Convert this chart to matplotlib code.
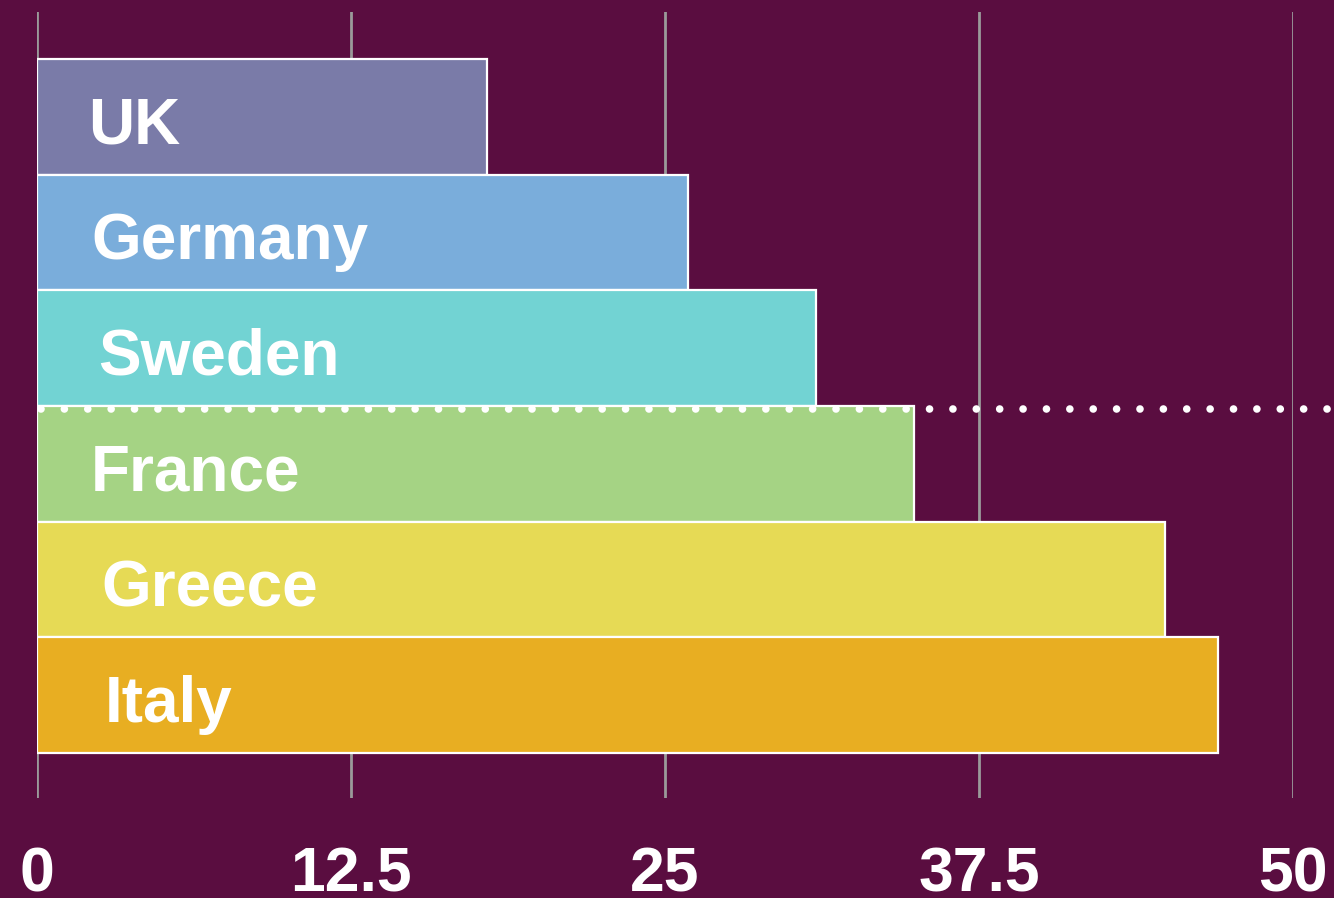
import matplotlib
matplotlib.use("Agg")
import matplotlib.pyplot as plt

countries = ["UK", "Germany", "Sweden", "France", "Greece", "Italy"]
values = [17.9, 25.9, 31.0, 34.9, 44.9, 47.0]
colors = ["#7A7BA8", "#7AADDB", "#72D3D3", "#A5D384", "#E6DA55", "#E8AE22"]
ticks = [0, 12.5, 25, 37.5, 50]
tick_labels = ["0", "12.5", "25", "37.5", "50"]

BG = "#5A0D40"
W, H = 1334, 898
fig = plt.figure(figsize=(W / 100, H / 100), dpi=100, facecolor=BG)
ax = fig.add_axes([37 / W, 1 - 798 / H, 1256 / W, 786 / H], facecolor=BG)

pos = list(range(len(countries)))
ax.barh(pos, values, height=1.0, color=colors, edgecolor="white", linewidth=1.6, zorder=3)

label_x = [2.05, 2.15, 2.45, 2.15, 2.55, 2.7]
for p, name, lx in zip(pos, countries, label_x):
    ax.text(lx, p + 0.23, name, color="white", fontsize=46, fontweight="bold",
            family="Liberation Sans", va="baseline", ha="left", zorder=5)

# dotted reference line between Sweden and France
ax.plot([0.15, 51.7], [2.525, 2.525], color="white", linewidth=5.5,
        linestyle=(0, (0.001, 3.06)), dash_capstyle="round", solid_capstyle="round",
        zorder=6, clip_on=False)

ax.set_xlim(0, 50)
ax.set_ylim(5.89, -0.906)
ax.set_xticks(ticks)
ax.set_xticklabels(tick_labels, fontsize=45, color="white", family="Liberation Sans", fontweight="bold")
ax.set_yticks([])
ax.tick_params(axis="x", length=0, pad=34)
ax.xaxis.grid(True, color="#9a9a9a", linewidth=2, zorder=0)
ax.set_axisbelow(True)
for s in ax.spines.values():
    s.set_visible(False)

fig.savefig("out.png", dpi=100, facecolor=BG)
